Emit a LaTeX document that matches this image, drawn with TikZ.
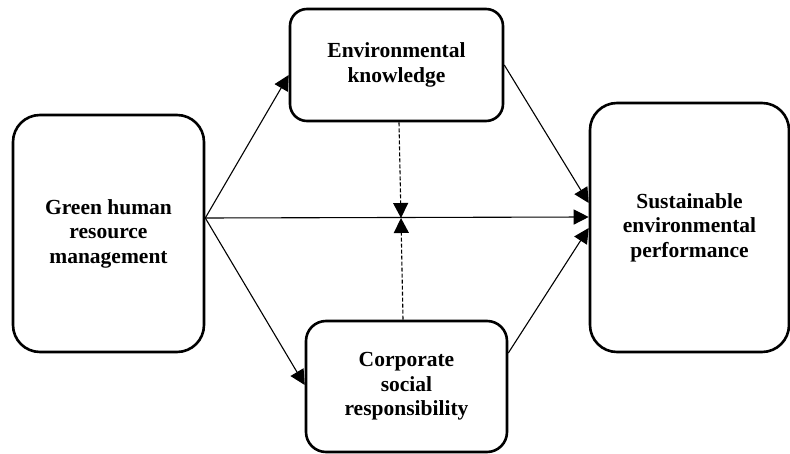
\documentclass[tikz,border=0pt]{standalone}
\usepackage{fontspec}
\setmainfont{Liberation Serif}
\usetikzlibrary{arrows.meta}

\begin{document}
\begin{tikzpicture}[x=1pt, y=-1pt,
  nodes = {font=\bfseries\fontsize{21.5}{24.5}\selectfont, align=center},
  box/.style = {draw, line width=2.6pt, inner sep=0pt},
  link/.style = {line width=1.1pt, -{Triangle[length=15pt,width=15pt]}},
  dashlink/.style = {link, dash pattern=on 4pt off 2pt}]
\useasboundingbox (0,0) rectangle (790,454);
% Boxes
\node[box, rounded corners=27pt, minimum width=191pt, minimum height=237pt]
  (ghrm) at (108.5,233.5) {Green human\\resource\\management};
\node[box, rounded corners=17pt, minimum width=213pt, minimum height=112pt]
  (ek) at (396.5,65) {Environmental\\knowledge};
\node[box, rounded corners=20pt, minimum width=201pt, minimum height=131pt]
  (csr) at (406.5,386.5) {Corporate\\social\\responsibility};
\node[box, rounded corners=27pt, minimum width=199pt, minimum height=249pt]
  (sep) at (689.5,227.5) {Sustainable\\environmental\\performance};
\coordinate (cross) at (401,218);
% Paths from GHRM
\coordinate (ghrmout) at ([yshift=15.5pt]ghrm.east);
\draw[link] (ghrmout) -- ([yshift=-10pt]ek.west);
\draw[link] (ghrmout) -- ([yshift=1.5pt]csr.west);
\draw[link] (ghrmout) -- ([yshift=10.5pt]sep.west);
% Paths from mediators
\draw[link] (ek.east) -- ([yshift=24.5pt]sep.west);
\draw[link] ([yshift=33.5pt]csr.east) -- ([yshift=-0.5pt]sep.west);
% Moderation
\draw[dashlink] ([xshift=2.5pt]ek.south) -- (cross);
\draw[dashlink] ([xshift=-3.5pt]csr.north) -- (cross);
\end{tikzpicture}
\end{document}
